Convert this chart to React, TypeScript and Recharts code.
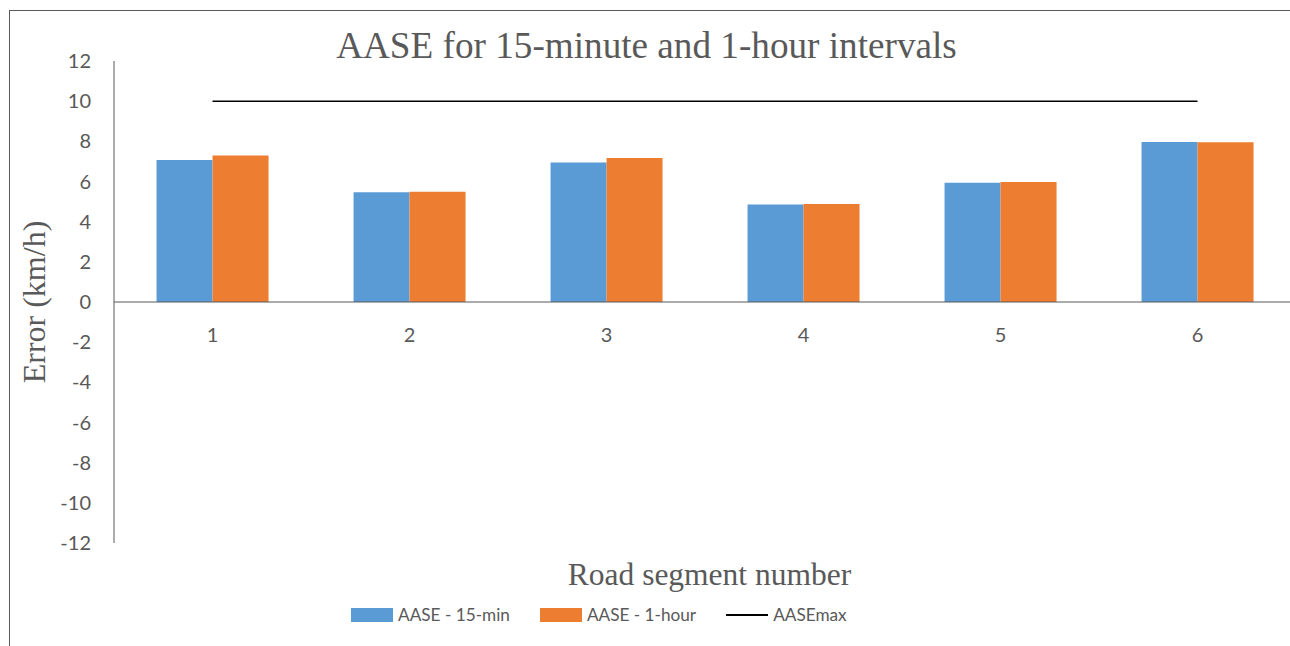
import React from 'react';
import { ComposedChart, Bar, Line, XAxis, YAxis, ReferenceLine } from 'recharts';

const segments = ['1', '2', '3', '4', '5', '6'];
const aase15min = [7.07, 5.46, 6.94, 4.86, 5.94, 7.97];
const aase1hour = [7.3, 5.49, 7.17, 4.88, 5.98, 7.95];
const aaseMax = [10, 10, 10, 10, 10, 10];
const yTicks = [-12, -10, -8, -6, -4, -2, 0, 2, 4, 6, 8, 10, 12];

const data = segments.map((s, i) => ({
  segment: s,
  min15: aase15min[i],
  hour1: aase1hour[i],
  max: aaseMax[i],
}));

const BLUE = '#5b9bd5';
const ORANGE = '#ed7d31';
const GREY = '#595959';

const TOP = 61;
const PLOT_H = 482;
const ZERO_Y = TOP + PLOT_H / 2;

const XTick = (props: any) => {
  const { x, payload } = props;
  return (
    <text x={x} y={ZERO_Y + 40} textAnchor="middle" fill={GREY} fontSize={20} fontFamily="Lato">
      {payload.value}
    </text>
  );
};

const legendItems = [
  { label: 'AASE - 15-min', color: BLUE, type: 'rect' },
  { label: 'AASE - 1-hour', color: ORANGE, type: 'rect' },
  { label: 'AASEmax', color: '#000', type: 'line' },
];

const App = () => {
  return (
    <div style={{ position: 'absolute', left: 0, top: 0, width: 1290, height: 646, overflow: 'hidden', background: '#fff' }}>
      <div
        style={{
          position: 'absolute',
          left: 9,
          top: 10,
          width: 1400,
          height: 800,
          borderLeft: '1px solid #595959',
          borderTop: '1px solid #595959',
        }}
      />
      <div style={{ position: 'absolute', left: 0, top: 0 }}>
        <ComposedChart
          width={1310}
          height={646}
          data={data}
          margin={{ top: TOP, right: 14, bottom: 73, left: 54 }}
          barCategoryGap="21.6%"
          barGap={0}
        >
          <YAxis
            width={60}
            domain={[-12, 12]}
            ticks={yTicks}
            interval={0}
            tickLine={false}
            tickMargin={17}
            axisLine={{ stroke: GREY }}
            tick={{ fill: GREY, fontSize: 20, fontFamily: 'Lato' }}
          />
          <XAxis dataKey="segment" height={30} axisLine={false} tickLine={false} tick={<XTick />} interval={0} />
          <Bar dataKey="min15" fill={BLUE} isAnimationActive={false} />
          <Bar dataKey="hour1" fill={ORANGE} isAnimationActive={false} />
          <ReferenceLine y={0} stroke={GREY} strokeWidth={1} />
          <Line dataKey="max" type="linear" stroke="#000" strokeWidth={1.5} dot={false} isAnimationActive={false} />
        </ComposedChart>
      </div>
      <svg width={1290} height={646} style={{ position: 'absolute', left: 0, top: 0, pointerEvents: 'none' }}>
        <text x={646.5} y={58} textAnchor="middle" fontFamily="Liberation Serif" fontSize={37.2} fill={GREY}>
          AASE for 15-minute and 1-hour intervals
        </text>
        <text
          x={45}
          y={302}
          textAnchor="middle"
          fontFamily="Liberation Serif"
          fontSize={32}
          fill={GREY}
          transform="rotate(-90 45 302)"
        >
          Error (km/h)
        </text>
        <text x={709.5} y={585} textAnchor="middle" fontFamily="Liberation Serif" fontSize={31.5} fill={GREY}>
          Road segment number
        </text>
      </svg>
      <div
        style={{
          position: 'absolute',
          left: 351,
          top: 603,
          display: 'flex',
          alignItems: 'center',
          fontFamily: 'Lato',
          fontSize: 17.2,
          color: GREY,
          whiteSpace: 'nowrap',
        }}
      >
        {legendItems.map((it, i) => (
          <div key={it.label} style={{ display: 'flex', alignItems: 'center', marginLeft: i === 0 ? 0 : 30 }}>
            {it.type === 'rect' ? (
              <div style={{ width: 42, height: 14, background: it.color }} />
            ) : (
              <div style={{ width: 42, height: 14, display: 'flex', alignItems: 'center' }}>
                <div style={{ width: 42, height: 1.5, background: it.color }} />
              </div>
            )}
            <span style={{ marginLeft: 5, lineHeight: '24px' }}>{it.label}</span>
          </div>
        ))}
      </div>
    </div>
  );
};

export default App;
